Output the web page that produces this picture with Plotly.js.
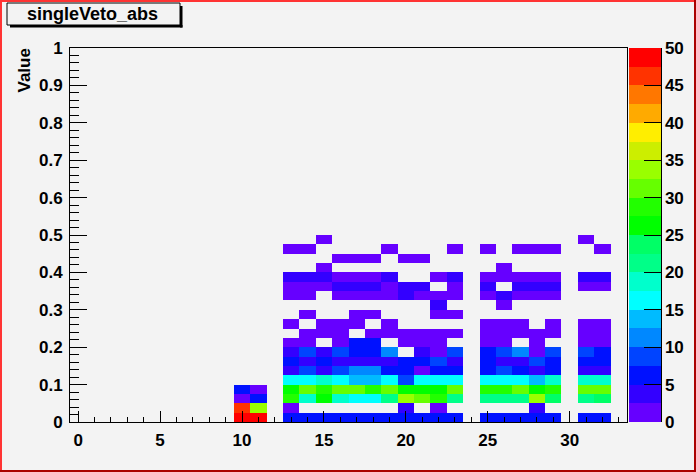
<!DOCTYPE html>
<html>
<head>
<meta charset="utf-8">
<script src="https://cdn.plot.ly/plotly-3.0.1.min.js"></script>
<style>
html,body{margin:0;padding:0;background:#f3f3f3;}
#chart{width:696px;height:472px;}
</style>
</head>
<body>
<div id="chart"></div>
<script>
// ---- Data: bin contents, one array per y-bin (y bin width 0.025), x bins 0..33 ----
const row00 = [0,0,0,0,0,0,0,0,0,0, 49,49,0,6,6,6,6,6,6,6, 6,6,6,6,0,6,6,6,6,6, 0,6,6,0];
const row01 = [0,0,0,0,0,0,0,0,0,0, 46,34,0,1,0,0,0,0,0,0, 4,0,1,0,0,0,0,0,4,0, 0,0,0,0];
const row02 = [0,0,0,0,0,0,0,0,0,0, 1,6,0,29,19,26,19,16,16,21, 34,31,29,21,0,21,21,21,34,23, 0,21,24,0];
const row03 = [0,0,0,0,0,0,0,0,0,0, 6,1,0,26,31,29,31,31,29,31, 26,26,26,31,0,29,29,31,26,29, 0,31,31,0];
const row04 = [0,0,0,0,0,0,0,0,0,0, 0,0,0,16,16,19,16,14,14,16, 9,16,16,16,0,16,16,16,14,19, 0,19,19,0];
const row05 = [0,0,0,0,0,0,0,0,0,0, 0,0,0,4,9,4,9,11,11,6, 6,1,6,6,0,6,9,6,4,6, 0,4,4,0];
const row06 = [0,0,0,0,0,0,0,0,0,0, 0,0,0,6,4,6,4,4,4,4, 6,6,9,4,0,6,4,4,9,6, 0,6,6,0];
const row07 = [0,0,0,0,0,0,0,0,0,0, 0,0,0,4,9,4,9,6,6,11, 0,4,1,9,0,6,9,11,1,9, 0,9,6,0];
const row08 = [0,0,0,0,0,0,0,0,0,0, 0,0,0,1,1,0,1,6,6,0, 1,1,1,0,0,1,1,0,1,0, 0,1,1,0];
const row09 = [0,0,0,0,0,0,0,0,0,0, 0,0,0,0,1,1,1,0,1,1, 1,1,1,1,0,1,1,1,1,1, 0,1,1,0];
const row10 = [0,0,0,0,0,0,0,0,0,0, 0,0,0,1,0,1,1,1,0,1, 0,0,0,0,0,1,1,1,0,1, 0,1,1,0];
const row11 = [0,0,0,0,0,0,0,0,0,0, 0,0,0,0,1,0,0,1,1,0, 0,0,1,1,0,0,0,0,0,0, 0,0,0,0];
const row12 = [0,0,0,0,0,0,0,0,0,0, 0,0,0,0,0,0,0,0,0,0, 0,0,4,0,0,0,1,0,0,0, 0,0,0,0];
const row13 = [0,0,0,0,0,0,0,0,0,0, 0,0,0,1,1,0,1,1,1,1, 4,1,1,1,0,1,4,1,1,1, 0,0,0,0];
const row14 = [0,0,0,0,0,0,0,0,0,0, 0,0,0,1,1,1,4,4,4,1, 4,4,0,1,0,4,0,4,4,4, 0,1,1,0];
const row15 = [0,0,0,0,0,0,0,0,0,0, 0,0,0,4,4,4,1,1,1,4, 0,0,1,4,0,1,1,1,1,1, 0,4,4,0];
const row16 = [0,0,0,0,0,0,0,0,0,0, 0,0,0,0,0,1,0,0,0,0, 0,0,0,0,0,0,1,0,0,0, 0,0,0,0];
const row17 = [0,0,0,0,0,0,0,0,0,0, 0,0,0,0,0,0,1,1,1,0, 1,1,0,0,0,0,0,0,0,0, 0,0,0,0];
const row18 = [0,0,0,0,0,0,0,0,0,0, 0,0,0,1,1,0,0,0,0,1, 0,0,0,1,0,1,0,1,1,1, 0,0,1,0];
const row19 = [0,0,0,0,0,0,0,0,0,0, 0,0,0,0,0,1,0,0,0,0, 0,0,0,0,0,0,0,0,0,0, 0,1,0,0];

const xTickVals = [0,5,10,15,20,25,30];
const xTickText = ['0','5','10','15','20','25','30'];
const yTickVals = [0,0.1,0.2,0.3,0.4,0.5,0.6,0.7,0.8,0.9,1];
const yTickText = ['0','0.1','0.2','0.3','0.4','0.5','0.6','0.7','0.8','0.9','1'];
const zTickVals = [0,5,10,15,20,25,30,35,40,45,50];
const zTickText = ['0','5','10','15','20','25','30','35','40','45','50'];
const bandColors = ['#6600ff','#3300ff','#0011ff','#0044ff','#0088ff','#00bbff','#00ffff','#00ffcc',
  '#00ff88','#00ff66','#00ff00','#22ff00','#66ff00','#99ff00','#ccee00','#ffee00','#ffaa00','#ff7700','#ff3300','#ff0000'];

const NX = 34, NY = 40;
const filled = [row00,row01,row02,row03,row04,row05,row06,row07,row08,row09,
                row10,row11,row12,row13,row14,row15,row16,row17,row18,row19];
const z = [];
for (let j = 0; j < NY; j++) {
  const r = filled[j] || new Array(NX).fill(0);
  z.push(r.map(v => v === 0 ? null : v));
}
const xC = Array.from({length: NX}, (_, i) => i);
const yC = Array.from({length: NY}, (_, j) => 0.0125 + 0.025 * j);

const cs = [];
bandColors.forEach((c, i) => { cs.push([i / 20, c]); cs.push([(i + 1) / 20, c]); });

const L = 70, R = 69, T = 48, B = 50, W = 696, H = 472;
const PW = W - L - R, PH = H - T - B;
const px = X => (X - L) / PW;
const py = Y => (H - B - Y) / PH;

const bg = '#f3f3f3';
const font = {family: '"Liberation Sans", Arial, Helvetica, sans-serif', color: '#000', weight: 700};

const trace = {
  type: 'heatmap', x: xC, y: yC, z: z,
  zmin: 0, zmax: 50, colorscale: cs, zsmooth: false, hoverinfo: 'skip',
  colorbar: {
    x: px(629), xanchor: 'left', xref: 'paper', xpad: 0,
    y: 0.5, yanchor: 'middle', ypad: 0, len: 1, lenmode: 'fraction',
    thickness: 32, thicknessmode: 'pixels', outlinewidth: 0,
    tickmode: 'array', tickvals: zTickVals, ticktext: zTickText,
    ticks: 'inside', ticklen: 17, tickcolor: '#000', tickwidth: 1,
    tickfont: Object.assign({}, font, {size: 17}), bgcolor: 'rgba(0,0,0,0)'
  }
};

const shapes = [
  // title box
  {type: 'rect', xref: 'paper', yref: 'paper', x0: px(7), x1: px(180), y0: py(25), y1: py(3),
   line: {color: '#000', width: 1}, fillcolor: bg, layer: 'above'},
  {type: 'rect', xref: 'paper', yref: 'paper', x0: px(180), x1: px(182.5), y0: py(27.5), y1: py(6),
   line: {width: 0}, fillcolor: '#000', layer: 'above'},
  {type: 'rect', xref: 'paper', yref: 'paper', x0: px(10), x1: px(182.5), y0: py(27.5), y1: py(25),
   line: {width: 0}, fillcolor: '#000', layer: 'above'},
  // colour bar right edge
  {type: 'line', xref: 'paper', yref: 'paper', x0: px(661.5), x1: px(661.5), y0: 0, y1: 1,
   line: {color: '#000', width: 1}, layer: 'above'},
  // canvas highlight border
  {type: 'line', xref: 'paper', yref: 'paper', x0: px(1), x1: px(1), y0: py(0), y1: py(472),
   line: {color: '#ff3333', width: 2}, layer: 'above'},
  {type: 'line', xref: 'paper', yref: 'paper', x0: px(0), x1: px(696), y0: py(1), y1: py(1),
   line: {color: '#ff3333', width: 2}, layer: 'above'},
  {type: 'line', xref: 'paper', yref: 'paper', x0: px(695), x1: px(695), y0: py(0), y1: py(472),
   line: {color: '#aa0000', width: 2}, layer: 'above'},
  {type: 'line', xref: 'paper', yref: 'paper', x0: px(0), x1: px(696), y0: py(471), y1: py(471),
   line: {color: '#aa0000', width: 2}, layer: 'above'}
];

const layout = {
  width: W, height: H,
  margin: {l: L, r: R, t: T, b: B, pad: 0, autoexpand: false},
  paper_bgcolor: bg, plot_bgcolor: bg,
  showlegend: false,
  font: font,
  xaxis: {
    range: [-0.5, 33.5], showgrid: false, zeroline: false,
    showline: true, mirror: true, linecolor: '#000', linewidth: 1,
    tickmode: 'array', tickvals: xTickVals, ticktext: xTickText,
    ticks: 'inside', ticklen: 11, tickcolor: '#000', tickwidth: 1,
    tickfont: Object.assign({}, font, {size: 17}), ticklabelstandoff: 3,
    minor: {dtick: 1, tick0: 0, ticks: 'inside', ticklen: 5.5, tickcolor: '#000', tickwidth: 1, showgrid: false},
    fixedrange: true, automargin: false
  },
  yaxis: {
    range: [0, 1], showgrid: false, zeroline: false,
    showline: true, mirror: true, linecolor: '#000', linewidth: 1,
    tickmode: 'array', tickvals: yTickVals, ticktext: yTickText,
    ticks: 'inside', ticklen: 17, tickcolor: '#000', tickwidth: 1,
    tickfont: Object.assign({}, font, {size: 17}), ticklabelstandoff: 3,
    minor: {dtick: 0.02, tick0: 0, ticks: 'inside', ticklen: 8.5, tickcolor: '#000', tickwidth: 1, showgrid: false},
    fixedrange: true, automargin: false
  },
  shapes: shapes,
  annotations: [
    {text: 'singleVeto_abs', xref: 'paper', yref: 'paper', x: px(92.5), y: py(14),
     xanchor: 'center', yanchor: 'middle', showarrow: false,
     font: Object.assign({}, font, {size: 18})},
    {text: 'Value', xref: 'paper', yref: 'paper', x: px(23.5), y: py(47),
     xanchor: 'center', yanchor: 'top', textangle: -90, showarrow: false,
     font: Object.assign({}, font, {size: 17})}
  ]
};

Plotly.newPlot('chart', [trace], layout, {staticPlot: true, displayModeBar: false});
</script>
</body>
</html>
